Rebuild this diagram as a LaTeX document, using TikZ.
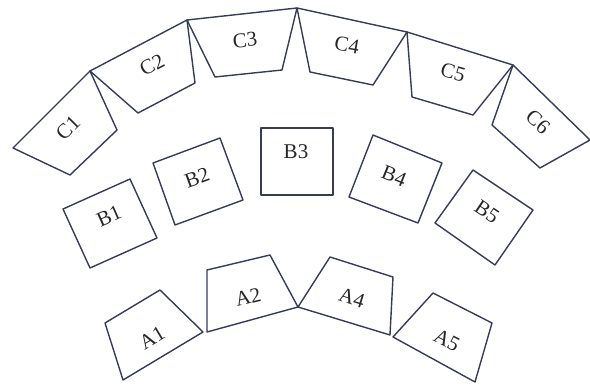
\documentclass[tikz,border=0pt]{standalone}
\usepackage{fontspec}
\setmainfont{Liberation Serif}
\definecolor{seatline}{RGB}{55,60,85}
\tikzset{
  seat/.style={draw=seatline,line width=1.4pt,line join=round},
  lbl/.style={font=\fontsize{21}{21}\selectfont,text=black!85,inner sep=0pt}
}
\begin{document}
\begin{tikzpicture}[x=1pt,y=-1pt]
\useasboundingbox (0,0) rectangle (590,385);

% C row
\draw[seat] (90,71)--(117,130)--(70,175)--(13,148)--cycle;
\draw[seat] (90,71)--(187,20)--(195,83)--(138,113)--cycle;
\draw[seat] (187,20)--(297,8)--(282,70)--(215,77)--cycle;
\draw[seat] (297,8)--(407,32)--(373,85)--(310,72)--cycle;
\draw[seat] (407,32)--(513,65)--(473,115)--(412,97)--cycle;
\draw[seat] (513,65)--(590,140)--(540,168)--(492,125)--cycle;

\node[lbl,rotate=45] (c1) at (68,128) {C1};
\node[lbl,rotate=28] (c2) at (152,65) {C2};
\node[lbl,rotate=6] (c3) at (245,40) {C3};
\node[lbl,rotate=-10] (c4) at (347,45) {C4};
\node[lbl,rotate=-16] (c5) at (453,72) {C5};
\node[lbl,rotate=-42] (c6) at (538,122) {C6};

% B row
\draw[seat] (63,209)--(130,179)--(157,238)--(90,268)--cycle;
\draw[seat] (153,163)--(220,138)--(243,200)--(175,225)--cycle;
\draw[seat] (261,128) rectangle (333,195);
\draw[seat] (373,135)--(442,163)--(418,223)--(349,197)--cycle;
\draw[seat] (473,170)--(533,210)--(495,265)--(435,223)--cycle;

\node[lbl,rotate=24] (b1) at (109,216) {B1};
\node[lbl,rotate=20] (b2) at (197,178) {B2};
\node[lbl] (b3) at (296,152) {B3};
\node[lbl,rotate=-22] (b4) at (394,176) {B4};
\node[lbl,rotate=-34] (b5) at (487,212) {B5};

% A row
\draw[seat] (160,290)--(203,332)--(123,380)--(105,323)--cycle;
\draw[seat] (207,270)--(270,255)--(298,307)--(207,332)--cycle;
\draw[seat] (330,257)--(393,277)--(390,335)--(298,307)--cycle;
\draw[seat] (433,293)--(492,323)--(475,382)--(393,337)--cycle;

\node[lbl,rotate=31] (a1) at (152,338) {A1};
\node[lbl,rotate=13] (a2) at (248,297) {A2};
\node[lbl,rotate=-17] (a4) at (352,298) {A4};
\node[lbl,rotate=-27] (a5) at (447,340) {A5};
\end{tikzpicture}
\end{document}
